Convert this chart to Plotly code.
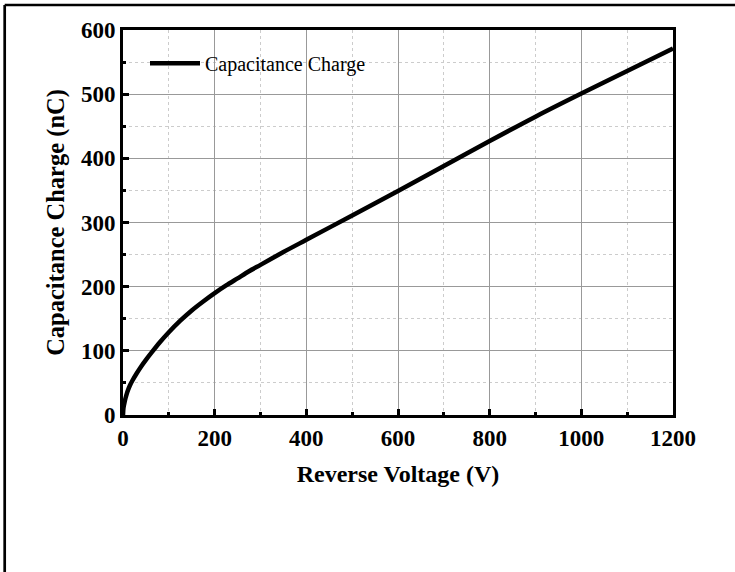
import plotly.graph_objects as go

# Data
voltage_v = [0, 1, 2, 4, 7, 10, 15, 20, 30, 40, 50, 63, 80, 100, 125, 150, 175, 200, 225, 250, 275,
             300, 350, 400, 500, 600, 700, 800, 900, 1000, 1100, 1200]
charge_nc = [0, 11, 15, 22, 30, 37, 46, 53, 65, 76, 86, 98, 113, 129, 147, 163, 177, 190, 202, 213, 224,
             234, 254, 273, 311, 349, 388, 427, 465, 501, 536, 571]

series_name = "Capacitance Charge"
x_title = "Reverse Voltage (V)"
y_title = "Capacitance Charge (nC)"

FONT = "Times New Roman, Liberation Serif, serif"

fig = go.Figure()
fig.add_trace(go.Scatter(
    x=voltage_v, y=charge_nc, mode="lines", name=series_name,
    line=dict(color="black", width=4.5, shape="spline", smoothing=0.8),
))

axis_common = dict(
    showline=True, linecolor="black", linewidth=3, mirror=True,
    ticks="inside", tickcolor="black", tickwidth=3, ticklen=6,
    showgrid=True, gridcolor="#999999", gridwidth=1,
    zeroline=False,
    tickfont=dict(family=FONT, size=23, color="black", weight="bold"),
)

fig.update_xaxes(
    **axis_common,
    range=[0, 1200], dtick=200, tick0=0,
    minor=dict(dtick=100, ticks="inside", ticklen=3, tickwidth=3, tickcolor="black",
               showgrid=True, gridcolor="#cccccc", griddash="dot", gridwidth=1),
    title=dict(text=x_title, font=dict(family=FONT, size=24, color="black", weight="bold"), standoff=16),
)
fig.update_yaxes(
    **axis_common,
    range=[0, 600], dtick=100, tick0=0,
    minor=dict(dtick=50, ticks="inside", ticklen=3, tickwidth=3, tickcolor="black",
               showgrid=True, gridcolor="#cccccc", griddash="dot", gridwidth=1),
    title=dict(text=y_title, font=dict(family=FONT, size=24.5, color="black", weight="bold"), standoff=10),
)

# Outer frame (only top and left edges fall inside the image) - kept within the page bounds
frame_line = dict(color="black", width=2.7)
fig.add_shape(type="line", xref="paper", yref="paper",
              x0=-0.2151, x1=1.1236, y0=1.0649, y1=1.0649, line=frame_line, layer="above")
fig.add_shape(type="line", xref="paper", yref="paper",
              x0=-0.2151, x1=-0.2151, y0=-0.4078, y1=1.0649, line=frame_line, layer="above")

fig.update_layout(
    width=735, height=572,
    margin=dict(l=123, r=62, t=30, b=157),
    paper_bgcolor="white", plot_bgcolor="white",
    font=dict(family=FONT, color="black"),
    showlegend=True,
    legend=dict(x=0.04, y=0.964, xanchor="left", yanchor="top",
                bgcolor="rgba(0,0,0,0)", borderwidth=0, itemwidth=50,
                font=dict(family=FONT, size=20, color="black")),
)

fig.write_html("out.html")
